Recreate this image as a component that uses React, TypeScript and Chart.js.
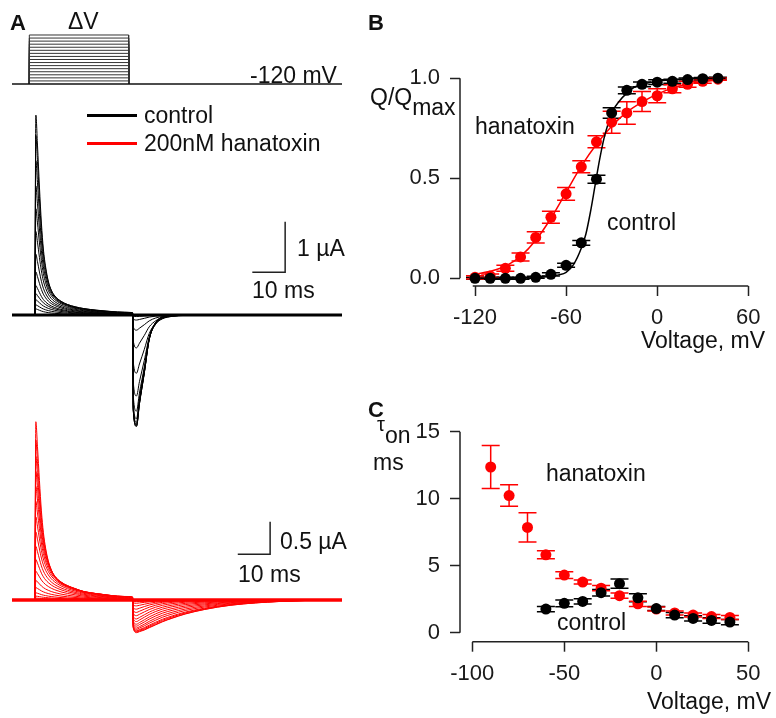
import React, { useEffect, useRef } from 'react';
import { Chart, registerables } from 'chart.js';

Chart.register(...registerables);

const FONT = '"Liberation Sans", Arial, Helvetica, sans-serif';
const RED = '#ff0000';
const BLACK = '#000000';
const AXIS = '#222222';

// ---------------- Panel A: voltage protocol ----------------
const protoTimes = [0, 5.3, 35.7, 101]; // ms: start, step on, step off, end
const holdingMV = -120;
const stepLevelsMV = [-110, -100, -90, -80, -70, -60, -50, -40, -30, -20, -10, 0, 10, 20, 30, 40];

// ---------------- Panel A: gating current traces ----------------
const traceStart = 0;
const stepOn = 7;
const stepOff = 37;
const traceEnd = 101;
// sample times (ms) relative to the step-on / step-off edges
const onTimes = [-0.05, 0.3, 0.8, 1.4, 2.0, 2.6, 3.3, 4.1, 5, 6.1, 8, 10, 12.3, 15, 19, 23, 27.5, 29.9];
const offTimes = [-0.05, 0.1, 1.1, 2, 3.5, 5, 7, 9, 12, 16, 22, 30, 45, 63.9];

// control (black): normalised time courses read from the largest / smallest traces
const ctlOnFast = [0, 1, 0.85, 0.64, 0.46, 0.33, 0.24, 0.17, 0.125, 0.095, 0.068, 0.052, 0.041, 0.032, 0.024, 0.018, 0.014, 0.012];
const ctlOnSlow = [0, 1, 0.97, 0.91, 0.84, 0.77, 0.69, 0.61, 0.53, 0.45, 0.34, 0.26, 0.19, 0.14, 0.09, 0.06, 0.04, 0.032];
const ctlOffFast = [0, 0.85, 1, 0.8, 0.52, 0.22, 0.07, 0.02, 0.005, 0, 0, 0, 0, 0];
const ctlOffSlow = [0, 0.7, 1, 0.92, 0.72, 0.5, 0.28, 0.15, 0.06, 0.02, 0.005, 0, 0, 0];
// control: per-trace peak amplitudes (µA) and kinetic mix
const ctlOnAmp = [3.95, 3.55, 3.05, 2.55, 2.1, 1.65, 1.2, 0.85, 0.58, 0.42, 0.3, 0.2, 0.12];
const ctlOnMix = [0, 0.03, 0.06, 0.1, 0.14, 0.18, 0.25, 0.35, 0.45, 0.55, 0.6, 0.6, 0.5];
const ctlOffAmp = [2.2, 2.2, 2.18, 2.16, 2.12, 2.05, 1.9, 1.6, 1.15, 0.65, 0.3, 0.1, 0.03];
const ctlOffMix = [0, 0, 0, 0, 0, 0, 0.1, 0.2, 0.35, 0.5, 0.6, 0.7, 0.8];

// hanatoxin (red)
const htxOnFast = [0, 1, 0.86, 0.67, 0.5, 0.38, 0.29, 0.22, 0.17, 0.13, 0.095, 0.075, 0.06, 0.045, 0.035, 0.026, 0.02, 0.017];
const htxOnSlow = [0, 1, 0.98, 0.94, 0.89, 0.84, 0.78, 0.72, 0.65, 0.58, 0.47, 0.38, 0.3, 0.22, 0.15, 0.1, 0.065, 0.05];
const htxOffFast = [0, 0.85, 1, 0.9, 0.72, 0.55, 0.38, 0.26, 0.15, 0.07, 0.025, 0.007, 0, 0];
const htxOffSlow = [0, 0.85, 1, 0.97, 0.92, 0.85, 0.76, 0.67, 0.56, 0.43, 0.29, 0.16, 0.045, 0];
const htxOnAmp = [2.73, 2.45, 2.2, 1.97, 1.74, 1.51, 1.27, 1.04, 0.82, 0.62, 0.44, 0.3, 0.19, 0.11, 0.06, 0.03];
const htxOnMix = [0, 0.04, 0.08, 0.12, 0.16, 0.2, 0.25, 0.3, 0.35, 0.42, 0.5, 0.55, 0.6, 0.65, 0.7, 0.7];
const htxOffAmp = [0.5, 0.49, 0.48, 0.47, 0.45, 0.43, 0.4, 0.37, 0.33, 0.29, 0.24, 0.19, 0.14, 0.09, 0.05, 0.025];
const htxOffMix = [1, 1, 0.95, 0.9, 0.8, 0.7, 0.6, 0.5, 0.4, 0.3, 0.2, 0.1, 0, 0, 0, 0];

// scale bars: [t0, t1] ms and [i0, i1] µA
const ctlBarTime = [73.55, 83.6];
const ctlBarCurrent = [0.844, 1.844];
const htxBarTime = [69.1, 79.0];
const htxBarCurrent = [0.7, 1.2];

// ---------------- Panel B: Q/Qmax ----------------
const qVolts = [-120, -110, -100, -90, -80, -70, -60, -50, -40, -30, -20, -10, 0, 10, 20, 30, 40];
const qControl = [0.0, 0.0, 0.0, 0.0, 0.005, 0.02, 0.065, 0.177, 0.495, 0.826, 0.939, 0.969, 0.98, 0.984, 0.993, 0.997, 1.0];
const qControlErr = [0.005, 0.005, 0.005, 0.005, 0.005, 0.008, 0.01, 0.012, 0.02, 0.026, 0.017, 0.012, 0.012, 0.01, 0.008, 0.006, 0.004];
const qHtx = [0.005, 0.012, 0.05, 0.107, 0.204, 0.305, 0.422, 0.557, 0.682, 0.78, 0.826, 0.883, 0.912, 0.947, 0.969, 0.984, 0.995];
const qHtxErr = [0.008, 0.01, 0.015, 0.02, 0.028, 0.03, 0.032, 0.03, 0.03, 0.055, 0.056, 0.05, 0.035, 0.02, 0.015, 0.01, 0.006];
const fitCtlV = [-122, -110, -100, -90, -80, -70, -65, -60, -55, -50, -47, -44, -41, -38, -35, -32, -29, -25, -20, -15, -10, 0, 10, 20, 30, 45];
const fitCtlQ = [0, 0, 0, 0.001, 0.003, 0.01, 0.017, 0.03, 0.07, 0.15, 0.22, 0.33, 0.46, 0.59, 0.7, 0.78, 0.84, 0.885, 0.925, 0.955, 0.97, 0.985, 0.992, 0.996, 0.998, 1];
const fitHtxV = [-122, -110, -100, -90, -80, -70, -60, -50, -40, -30, -20, -10, 0, 10, 20, 30, 45];
const fitHtxQ = [0.018, 0.035, 0.06, 0.11, 0.19, 0.3, 0.43, 0.56, 0.67, 0.76, 0.83, 0.88, 0.92, 0.95, 0.97, 0.983, 0.995];
const qXTicks = [-120, -60, 0, 60];
const qYTicks = [0, 0.5, 1];

// ---------------- Panel C: tau_on ----------------
const tauHtxV = [-90, -80, -70, -60, -50, -40, -30, -20, -10, 0, 10, 20, 30, 40];
const tauHtx = [12.37, 10.24, 7.86, 5.81, 4.3, 3.78, 3.32, 2.76, 2.15, 1.76, 1.47, 1.31, 1.2, 1.13];
const tauHtxErr = [1.6, 0.8, 1.1, 0.3, 0.25, 0.15, 0.2, 0.2, 0.2, 0.15, 0.15, 0.15, 0.15, 0.15];
const tauCtlV = [-60, -50, -40, -30, -20, -10, 0, 10, 20, 30, 40];
const tauCtl = [1.76, 2.19, 2.33, 2.98, 3.66, 2.6, 1.8, 1.31, 1.06, 0.91, 0.79];
const tauCtlErr = [0.2, 0.25, 0.2, 0.25, 0.35, 0.3, 0.15, 0.2, 0.2, 0.2, 0.2];
const tauXTicks = [-100, -50, 0, 50];
const tauYTicks = [0, 5, 10, 15];

// ---------------- helpers ----------------
const xy = (xs: number[], ys: number[]) => xs.map((x, i) => ({ x, y: ys[i] }));

function buildTrace(
  onAmp: number, onMix: number, onFast: number[], onSlow: number[],
  offAmp: number, offMix: number, offFast: number[], offSlow: number[]
) {
  const pts = [{ x: traceStart, y: 0 }];
  onTimes.forEach((t, i) => pts.push({ x: stepOn + t, y: onAmp * ((1 - onMix) * onFast[i] + onMix * onSlow[i]) }));
  offTimes.forEach((t, i) => pts.push({ x: stepOff + t, y: -offAmp * ((1 - offMix) * offFast[i] + offMix * offSlow[i]) }));
  pts.push({ x: traceEnd, y: 0 });
  return pts;
}

const baseOptions = (scales: any, extraPlugins: any = {}) => ({
  responsive: false,
  animation: false,
  devicePixelRatio: 1,
  events: [],
  layout: { padding: 0 },
  plugins: { legend: { display: false }, tooltip: { enabled: false }, ...extraPlugins },
  scales,
});

const hiddenScales = (xmin: number, xmax: number, ymin: number, ymax: number) => ({
  x: { type: 'linear', min: xmin, max: xmax, display: false },
  y: { type: 'linear', min: ymin, max: ymax, display: false },
});

const lineDs = (data: any[], color: string, width: number, smooth = true) => ({
  data,
  showLine: true,
  borderColor: color,
  borderWidth: width,
  pointRadius: 0,
  cubicInterpolationMode: smooth ? 'monotone' : 'default',
  tension: 0,
});

// Detached (offset) axis lines and error bars, drawn from the chart's scales
const axesAndErrors = {
  id: 'axesAndErrors',
  beforeDatasetsDraw(chart: any, _args: any, opts: any) {
    const ctx = chart.ctx;
    const xs = chart.scales.x;
    const ys = chart.scales.y;
    const area = chart.chartArea;
    ctx.save();
    ctx.strokeStyle = AXIS;
    ctx.lineWidth = 1.5;
    ctx.beginPath();
    ctx.moveTo(area.left, ys.getPixelForValue(opts.yRange[0]));
    ctx.lineTo(area.left, ys.getPixelForValue(opts.yRange[1]));
    ctx.moveTo(xs.getPixelForValue(opts.xRange[0]), area.bottom);
    ctx.lineTo(xs.getPixelForValue(opts.xRange[1]), area.bottom);
    ctx.stroke();
    // error bars
    chart.data.datasets.forEach((ds: any, i: number) => {
      if (!ds.errorBars) return;
      const meta = chart.getDatasetMeta(i);
      ctx.strokeStyle = ds.errorColor;
      ctx.lineWidth = 1.5;
      meta.data.forEach((el: any, j: number) => {
        const v = ds.data[j].y;
        const e = ds.errorBars[j];
        const yTop = ys.getPixelForValue(v + e);
        const yBot = ys.getPixelForValue(v - e);
        const cap = 9;
        ctx.beginPath();
        ctx.moveTo(el.x, yTop);
        ctx.lineTo(el.x, yBot);
        ctx.moveTo(el.x - cap, yTop);
        ctx.lineTo(el.x + cap, yTop);
        ctx.moveTo(el.x - cap, yBot);
        ctx.lineTo(el.x + cap, yBot);
        ctx.stroke();
      });
    });
    ctx.restore();
  },
};

const visibleScales = (
  xmin: number, xmax: number, ymin: number, ymax: number,
  xTicks: number[], yTicks: number[], yDigits: number, xHeight: number, xPad: number
) => ({
  x: {
    type: 'linear', min: xmin, max: xmax,
    afterBuildTicks: (s: any) => { s.ticks = xTicks.map((v) => ({ value: v })); },
    afterFit: (s: any) => { s.height = xHeight; },
    border: { display: false },
    grid: { display: true, drawOnChartArea: false, drawTicks: true, tickLength: 10, tickWidth: 1.5, tickColor: AXIS },
    ticks: { autoSkip: false, maxRotation: 0, padding: xPad, color: '#1a1a1a', font: { family: FONT, size: 22 },
      callback: (v: any) => String(v) },
  },
  y: {
    type: 'linear', min: ymin, max: ymax,
    afterBuildTicks: (s: any) => { s.ticks = yTicks.map((v) => ({ value: v })); },
    afterFit: (s: any) => { s.width = 100; },
    border: { display: false },
    grid: { display: true, drawOnChartArea: false, drawTicks: true, tickLength: 10, tickWidth: 1.5, tickColor: AXIS },
    ticks: { padding: 10, color: '#1a1a1a', font: { family: FONT, size: 22 },
      callback: (v: any) => Number(v).toFixed(yDigits) },
  },
});

const pointDs = (data: any[], color: string, errs: number[], order: number) => ({
  data,
  showLine: false,
  pointRadius: 5.5,
  pointBorderWidth: 0,
  pointBackgroundColor: color,
  backgroundColor: color,
  borderColor: color,
  errorBars: errs,
  errorColor: color,
  order,
});

// ---------------- chart configs ----------------
function protocolConfig() {
  const datasets: any[] = [lineDs([{ x: protoTimes[0], y: holdingMV }, { x: protoTimes[3], y: holdingMV }], '#111', 1.5, false)];
  stepLevelsMV.forEach((v) => {
    datasets.push(lineDs([
      { x: protoTimes[1], y: holdingMV }, { x: protoTimes[1], y: v },
      { x: protoTimes[2], y: v }, { x: protoTimes[2], y: holdingMV },
    ], '#333', 1, false));
  });
  return { type: 'scatter', data: { datasets }, options: baseOptions(hiddenScales(0, 101, -139.6, 56.3)) };
}

function tracesConfig(
  color: string, onAmp: number[], onMix: number[], onFast: number[], onSlow: number[],
  offAmp: number[], offMix: number[], offFast: number[], offSlow: number[],
  barT: number[], barI: number[], ymin: number, ymax: number, baseWidth: number
) {
  const datasets: any[] = [];
  datasets.push(lineDs([{ x: barT[0], y: barI[0] }, { x: barT[1], y: barI[0] }, { x: barT[1], y: barI[1] }], '#222', 1.5, false));
  onAmp.forEach((a, i) => {
    datasets.push(lineDs(buildTrace(a, onMix[i], onFast, onSlow, offAmp[i], offMix[i], offFast, offSlow), color, 1));
  });
  datasets.push(lineDs([{ x: traceStart, y: 0 }, { x: traceEnd, y: 0 }], color, baseWidth, false));
  return { type: 'scatter', data: { datasets }, options: baseOptions(hiddenScales(0, 101, ymin, ymax)) };
}

function qvConfig() {
  return {
    type: 'scatter',
    data: {
      datasets: [
        pointDs(xy(qVolts, qControl), BLACK, qControlErr, 0),
        pointDs(xy(qVolts, qHtx), RED, qHtxErr, 1),
        { ...lineDs(xy(fitCtlV, fitCtlQ), BLACK, 1.5), order: 2 },
        { ...lineDs(xy(fitHtxV, fitHtxQ), RED, 1.5), order: 3 },
      ],
    },
    options: {
      ...baseOptions(visibleScales(-129.88, 67.71, -0.0385, 1.0747, qXTicks, qYTicks, 1, 64, 9),
        { axesAndErrors: { xRange: [-121.5, 60], yRange: [0, 1] } }),
      layout: { padding: { left: 0, top: 0, right: 10, bottom: 0 } },
    },
    plugins: [axesAndErrors],
  };
}

function tauConfig() {
  return {
    type: 'scatter',
    data: {
      datasets: [
        pointDs(xy(tauCtlV, tauCtl), BLACK, tauCtlErr, 0),
        pointDs(xy(tauHtxV, tauHtx), RED, tauHtxErr, 1),
      ],
    },
    options: {
      ...baseOptions(visibleScales(-106.68, 56.36, -0.677, 16.015, tauXTicks, tauYTicks, 0, 76.3, 9),
        { axesAndErrors: { xRange: [-100, 50], yRange: [0, 15] } }),
      layout: { padding: { left: 0, top: 0, right: 10, bottom: 0 } },
    },
    plugins: [axesAndErrors],
  };
}

// ---------------- components ----------------
function ChartBox({ left, top, width, height, make }: any) {
  const ref = useRef<HTMLCanvasElement | null>(null);
  useEffect(() => {
    const chart = new Chart(ref.current as any, make());
    return () => chart.destroy();
  }, []);
  return (
    <canvas
      ref={ref}
      width={width}
      height={height}
      style={{ position: 'absolute', left, top, width, height, display: 'block' }}
    />
  );
}

function Label({ x, y, size = 23, bold = false, children }: any) {
  return (
    <div
      style={{
        position: 'absolute', left: x, top: y, fontFamily: FONT, fontSize: size,
        lineHeight: `${size}px`, fontWeight: bold ? 700 : 400, color: '#111', whiteSpace: 'nowrap',
      }}
    >
      {children}
    </div>
  );
}

export default function App() {
  return (
    <div style={{ position: 'absolute', left: 0, top: 0, width: 776, height: 718, background: '#fff', overflow: 'hidden' }}>
      <ChartBox left={12} top={30} width={330} height={60} make={protocolConfig} />
      <ChartBox left={12} top={106} width={330} height={332}
        make={() => tracesConfig(BLACK, ctlOnAmp, ctlOnMix, ctlOnFast, ctlOnSlow, ctlOffAmp, ctlOffMix, ctlOffFast, ctlOffSlow,
          ctlBarTime, ctlBarCurrent, -2.431, 4.13, 3)} />
      <ChartBox left={12} top={412} width={330} height={230}
        make={() => tracesConfig(RED, htxOnAmp, htxOnMix, htxOnFast, htxOnSlow, htxOffAmp, htxOffMix, htxOffFast, htxOffSlow,
          htxBarTime, htxBarCurrent, -0.643, 2.879, 3.5)} />
      <ChartBox left={360} top={40} width={410} height={310} make={qvConfig} />
      <ChartBox left={360} top={395} width={410} height={323} make={tauConfig} />

      {/* panel A labels */}
      <Label x={10} y={12} size={22} bold>A</Label>
      <Label x={68} y={10}>ΔV</Label>
      <Label x={250} y={64}>-120 mV</Label>
      <div style={{ position: 'absolute', left: 87, top: 113.5, width: 50, height: 3, background: BLACK }} />
      <Label x={144} y={104}>control</Label>
      <div style={{ position: 'absolute', left: 87, top: 141.5, width: 50, height: 3, background: RED }} />
      <Label x={144} y={132}>200nM hanatoxin</Label>
      <Label x={297} y={237}>1 µA</Label>
      <Label x={252} y={279}>10 ms</Label>
      <Label x={280} y={530}>0.5 µA</Label>
      <Label x={238} y={563}>10 ms</Label>

      {/* panel B labels */}
      <Label x={368} y={12} size={22} bold>B</Label>
      <Label x={370} y={86}>Q/Q<span style={{ position: 'relative', top: 10 }}>max</span></Label>
      <Label x={475} y={115}>hanatoxin</Label>
      <Label x={607} y={211}>control</Label>
      <Label x={641} y={329}>Voltage, mV</Label>

      {/* panel C labels */}
      <Label x={368} y={399} size={22} bold>C</Label>
      <Label x={377} y={424}><span style={{ position: 'relative', top: -12, fontSize: 20 }}>τ</span>on</Label>
      <Label x={373} y={451}>ms</Label>
      <Label x={546} y={462}>hanatoxin</Label>
      <Label x={557} y={611}>control</Label>
      <Label x={647} y={690}>Voltage, mV</Label>
    </div>
  );
}
